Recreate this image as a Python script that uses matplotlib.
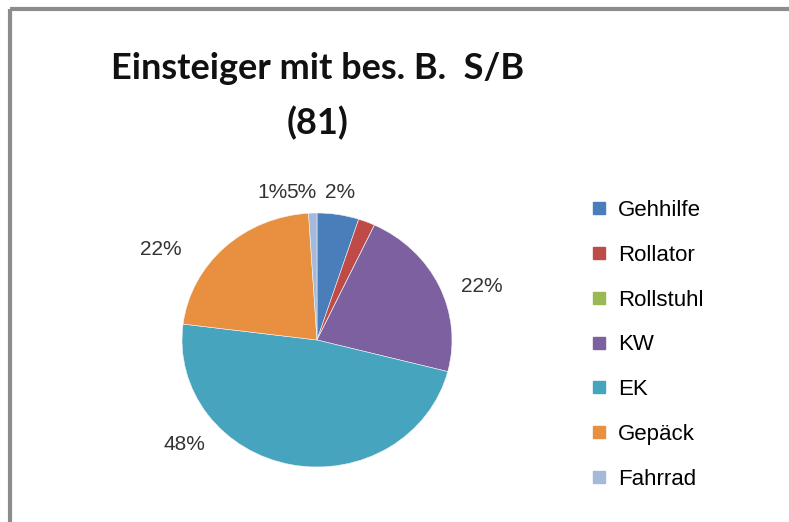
import matplotlib.pyplot as plt
from matplotlib.lines import Line2D

categories = ["Gehhilfe", "Rollator", "Rollstuhl", "KW", "EK", "Gepäck", "Fahrrad"]
shares = [5, 2, 0, 22, 48, 22, 1]
colors = ["#4a7ebb", "#be4b48", "#98b954", "#7d60a0", "#46a4bf", "#e8903f", "#a5b9d9"]
title = "Einsteiger mit bes. B.  S/B\n(81)"

fig = plt.figure(figsize=(7.89, 5.22), dpi=100)
ax = fig.add_axes([0.0, 0.0, 1.0, 1.0])

# pie placed by hand in pixel terms: centre ~(317, 340)
ax_pie = fig.add_axes([(317 - 135) / 789, (522 - 340 - 127) / 522, 270 / 789, 254 / 522])
wedges, _ = ax_pie.pie(shares, colors=colors, startangle=90, counterclock=False,
                       wedgeprops=dict(linewidth=0.4, edgecolor="#f4f4f4"))
ax_pie.set_aspect("auto")
ax_pie.set_xlim(-1, 1)
ax_pie.set_ylim(-1, 1)

# data labels (zero slice is not labelled)
label_pos = {"Fahrrad": (-0.33, 1.16), "Gehhilfe": (-0.12, 1.16), "Rollator": (0.17, 1.16),
             "KW": (1.22, 0.42), "EK": (-0.98, -0.82), "Gepäck": (-1.16, 0.71)}
for cat, val in zip(categories, shares):
    if val == 0:
        continue
    x, y = label_pos[cat]
    ax_pie.text(x, y, f"{val}%", ha="center", va="center", fontsize=15,
                color="#333333", family="Liberation Sans")

ax.set_xlim(0, 789)
ax.set_ylim(522, 0)
ax.axis("off")

# chart frame
ax.plot([10, 10], [9, 522], color="#8c8c8c", lw=3, solid_capstyle="butt")
ax.plot([10, 789], [9, 9], color="#8c8c8c", lw=3, solid_capstyle="butt")

ax.text(318, 96, title, ha="center", va="center", fontsize=26, fontweight="bold",
        family="Lato", color="#111111", linespacing=1.75)

handles = [Line2D([], [], marker="s", linestyle="none", markersize=9,
                  markerfacecolor=c, markeredgecolor=c) for c in colors]
fig.legend(handles, categories, loc="upper left", bbox_to_anchor=(568 / 789, 1 - 180 / 522),
           frameon=False, labelspacing=1.07, handletextpad=0.35,
           handlelength=1.0, prop={"family": "Liberation Sans", "size": 16})

fig.savefig("out.png", dpi=100)
